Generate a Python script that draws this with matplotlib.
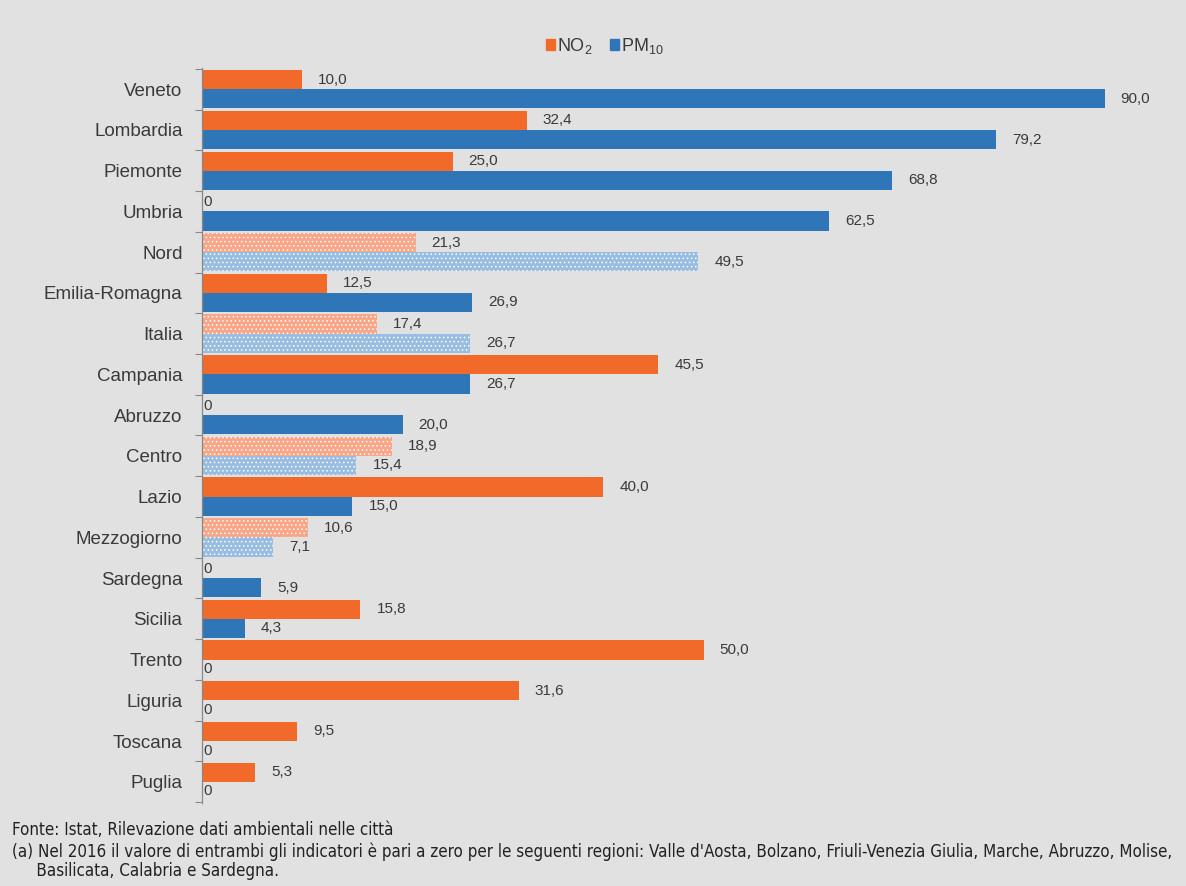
import numpy as np
import matplotlib
matplotlib.use("Agg")
import matplotlib.pyplot as plt
from matplotlib.patches import Patch

# dati
regioni = ["Veneto", "Lombardia", "Piemonte", "Umbria", "Nord", "Emilia-Romagna",
           "Italia", "Campania", "Abruzzo", "Centro", "Lazio", "Mezzogiorno",
           "Sardegna", "Sicilia", "Trento", "Liguria", "Toscana", "Puglia"]
no2 = [10.0, 32.4, 25.0, 0, 21.3, 12.5, 17.4, 45.5, 0, 18.9, 40.0, 10.6,
       0, 15.8, 50.0, 31.6, 9.5, 5.3]
pm10 = [90.0, 79.2, 68.8, 62.5, 49.5, 26.9, 26.7, 26.7, 20.0, 15.4, 15.0, 7.1,
        5.9, 4.3, 0, 0, 0, 0]
aggregati = ["Nord", "Italia", "Centro", "Mezzogiorno"]

BG = "#e1e1e1"
ORANGE = "#f26a2a"
BLUE = "#2f76b8"
ORANGE_L = "#f8a687"
BLUE_L = "#98bde0"
TXT = "#3a3a3a"

plt.rcParams["font.family"] = ["Liberation Sans", "DejaVu Sans"]
plt.rcParams["hatch.linewidth"] = 0.6

fig = plt.figure(figsize=(11.86, 8.86), dpi=100, facecolor=BG)
ax = fig.add_axes([202 / 1186, 1 - 803 / 886, 1 - 202 / 1186, (803 - 68) / 886])
ax.set_facecolor(BG)

n = len(regioni)
y = np.arange(n)
h = 0.47

for i, reg in enumerate(regioni):
    agg = reg in aggregati
    c1 = ORANGE_L if agg else ORANGE
    c2 = BLUE_L if agg else BLUE
    hatch = "...." if agg else None
    ax.barh(y[i] - h / 2, no2[i], height=h, color=c1, edgecolor="white" if agg else c1,
            linewidth=0, hatch=hatch)
    ax.barh(y[i] + h / 2, pm10[i], height=h, color=c2, edgecolor="white" if agg else c2,
            linewidth=0, hatch=hatch)
    for val, yy in ((no2[i], y[i] - h / 2), (pm10[i], y[i] + h / 2)):
        lab = f"{val:.1f}".replace(".", ",") if val > 0 else "0"
        off = 11.5 if val > 0 else 1
        ax.annotate(lab, (val, yy), xytext=(off, 0), textcoords="offset points",
                    ha="left", va="center", fontsize=11, color=TXT)

ax.set_ylim(n - 0.5 + 0.02, -0.5 - 0.02)
ax.set_xlim(0, (1186 - 202) / 10.03)

ax.set_yticks(y)
ax.set_yticklabels(regioni, fontsize=13.5, color=TXT)
ax.tick_params(axis="y", which="major", length=0, pad=14)
ax.set_yticks(np.arange(-0.5, n, 1), minor=True)
ax.tick_params(axis="y", which="minor", length=5, color="#888888", width=0.8)
ax.set_xticks([])
for s in ["top", "right", "bottom"]:
    ax.spines[s].set_visible(False)
ax.spines["left"].set_color("#888888")
ax.spines["left"].set_linewidth(0.9)

handles = [Patch(color=ORANGE, label=r"NO$_\mathregular{2}$"),
           Patch(color=BLUE, label=r"PM$_\mathregular{10}$")]
fig.legend(handles=handles, loc="center", bbox_to_anchor=(605 / 1186, 1 - 46 / 886),
           ncol=2, frameon=False, fontsize=13, handlelength=0.5, handleheight=0.5,
           handletextpad=0.1, columnspacing=1.0, labelcolor=TXT)

foot = ["Fonte: Istat, Rilevazione dati ambientali nelle città",
        "(a) Nel 2016 il valore di entrambi gli indicatori è pari a zero per le seguenti regioni: "
        "Valle d'Aosta, Bolzano, Friuli-Venezia Giulia, Marche, Abruzzo, Molise,",
        "     Basilicata, Calabria e Sardegna."]
foot_y = [830, 852, 871]
for t, yy in zip(foot, foot_y):
    fig.text(12 / 1186, 1 - yy / 886, t, fontsize=12.2, color="#222222",
             family=["DejaVu Sans"], fontstretch="condensed", va="center", ha="left")

fig.savefig("out.png", dpi=100, facecolor=BG)
